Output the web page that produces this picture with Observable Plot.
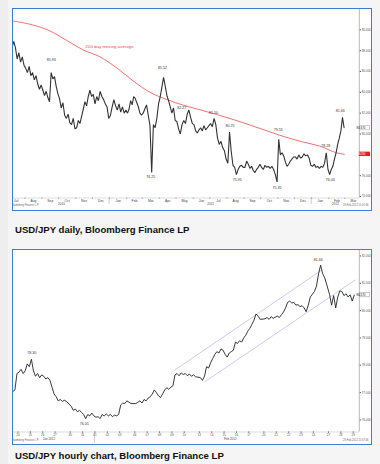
<!DOCTYPE html>
<html><head><meta charset="utf-8">
<script src="https://cdn.jsdelivr.net/npm/d3@7"></script>
<script src="https://cdn.jsdelivr.net/npm/@observablehq/plot@0.6"></script>
<style>
html,body{margin:0;padding:0;}
body{width:380px;height:464px;background:#f5f5f5;position:relative;overflow:hidden;font-family:"Liberation Sans",Arial,sans-serif;}
.strip{position:absolute;left:0;top:0;width:8px;height:464px;background:#eeeeee;}
.frame{position:absolute;left:12px;width:360px;box-sizing:border-box;border:1.5px solid #3f7fcf;background:#fff;overflow:hidden;}
.frame svg{position:absolute;left:0;top:0;}
.cap{position:absolute;left:15px;font-weight:bold;font-size:9.6px;line-height:11px;color:#111;white-space:nowrap;}
</style></head><body>
<div class="strip"></div>
<div class="frame" id="f1" style="top:8px;height:203px;"></div>
<div class="cap" style="top:224px;">USD/JPY daily, Bloomberg Finance LP</div>
<div class="frame" id="f2" style="top:249px;height:196px;"></div>
<div class="cap" style="top:450px;">USD/JPY hourly chart, Bloomberg Finance LP</div>
<script>
const DAY = 864e5;
const utc = s => { const p = s.split("-").map(Number); return Date.UTC(p[0], p[1]-1, p[2]||1); };

// ---------------- DAILY CHART DATA ----------------
const dailyMonths = ["2010-07","2010-08","2010-09","2010-10","2010-11","2010-12","2011-01","2011-02","2011-03","2011-04","2011-05","2011-06","2011-07","2011-08","2011-09","2011-10","2011-11","2011-12","2012-01","2012-02"];
const dailyValues = [
  [88.4, 88.0, 88.3, 88.9, 88.3, 87.2, 87.8, 86.9, 87.4, 86.6],
  [86.3, 85.9, 86.5, 85.6, 85.9, 85.2, 85.6, 84.8, 84.3, 84.7],
  [84.2, 83.7, 84.1, 83.5, 83.1, 85.9, 85.3, 85.5, 84.6, 83.9],
  [83.4, 82.5, 83.0, 81.8, 81.5, 81.9, 81.1, 80.9, 81.5, 80.5],
  [80.6, 81.3, 81.0, 81.7, 82.4, 83.1, 82.7, 83.6, 84.2, 83.6],
  [83.8, 82.9, 83.6, 83.2, 84.1, 83.6, 83.3, 82.9, 82.6, 81.5],
  [81.8, 82.6, 83.3, 82.7, 82.3, 82.9, 82.1, 82.6, 82.0, 82.3],
  [82.0, 82.4, 83.2, 82.8, 83.6, 83.4, 83.0, 82.6, 82.0, 81.8],
  [82.0, 82.4, 82.8, 81.8, 80.8, 76.3, 80.9, 80.6, 81.5, 82.9],
  [83.6, 84.5, 85.45, 84.6, 83.7, 83.2, 82.6, 82.0, 82.5, 81.3],
  [81.2, 80.5, 80.0, 80.9, 81.3, 81.0, 81.9, 82.3, 81.6, 81.0],
  [80.9, 80.3, 80.1, 80.4, 80.6, 80.3, 80.8, 80.4, 80.6, 80.8],
  [81.0, 80.7, 81.5, 80.9, 79.6, 79.0, 79.3, 78.7, 78.4, 77.6],
  [77.2, 80.2, 78.3, 77.0, 76.8, 76.1, 76.6, 76.9, 77.0, 76.8],
  [76.8, 77.4, 77.1, 76.7, 76.9, 76.5, 76.3, 76.6, 76.8, 77.1],
  [76.8, 76.6, 77.0, 76.8, 76.9, 76.7, 76.9, 76.6, 76.1, 75.4],
  [79.5, 78.0, 78.2, 77.9, 77.3, 76.9, 77.1, 77.4, 77.6, 77.8],
  [77.8, 77.6, 78.0, 77.7, 77.8, 78.1, 77.9, 78.0, 77.7, 77.0],
  [76.9, 77.1, 76.8, 76.9, 76.7, 76.9, 76.8, 77.2, 78.2, 76.6],
  [76.1, 76.6, 76.9, 77.6, 78.2, 79.0, 79.6, 80.3, 81.6, 80.6]
];
const maDates = ["2010-07-10","2010-08-15","2010-09-15","2010-10-15","2010-11-15","2010-12-15","2011-01-15","2011-02-15","2011-03-15","2011-04-15","2011-05-15","2011-06-15","2011-07-15","2011-08-15","2011-09-15","2011-10-15","2011-11-15","2011-12-15","2012-01-15","2012-02-15","2012-02-29"];
const maValues = [90.85, 90.47, 89.9, 89.0, 88.05, 87.4, 86.3, 85.0, 84.0, 83.3, 82.75, 82.3, 81.85, 81.35, 80.8, 80.25, 79.7, 79.25, 78.85, 78.2, 78.05];
const dailyYTicks = [74, 76, 78, 80, 82, 84, 86, 88, 90];
const dailyNoteText = ["85.93","85.52","82.27","81.50","80.25","79.55","78.28","81.66","76.25","75.95","75.35","76.03"];
const dailyNoteDates = ["2010-09-17","2011-04-06","2011-05-11","2011-07-07","2011-08-06","2011-11-01","2012-01-26","2012-02-21","2011-03-16","2011-08-19","2011-10-30","2012-02-03"];
const dailyNoteDy = [-12, -9, -3, -6, -6, -9, -6, -6, 4, 4, 5, 4];
const maLabel = "200 day moving average";
const lastPrice = 80.57, lastMA = 78.05;

// ---------------- HOURLY CHART DATA ----------------
const hourDays = ["2012-01-23","2012-01-24","2012-01-25","2012-01-26","2012-01-27","2012-01-30","2012-01-31","2012-02-01","2012-02-02","2012-02-03","2012-02-06","2012-02-07","2012-02-08","2012-02-09","2012-02-10","2012-02-13","2012-02-14","2012-02-15","2012-02-16","2012-02-17","2012-02-20","2012-02-21","2012-02-22","2012-02-23","2012-02-24","2012-02-27","2012-02-28","2012-02-29"];
const hourSampleHours = [2, 6, 10, 14, 18, 22];
const hourValues = [
  [77.0, 77.02, 76.98, 77.04, 77.1, 77.7],
  [77.75, 77.85, 77.7, 77.8, 78.05, 77.95],
  [78.22, 77.8, 77.6, 77.7, 77.55, 77.65],
  [77.6, 77.5, 77.55, 77.45, 77.2, 76.95],
  [76.85, 76.7, 76.75, 76.68, 76.72, 76.68],
  [76.5, 76.35, 76.4, 76.3, 76.35, 76.28],
  [76.2, 76.05, 76.2, 76.15, 76.25, 76.15],
  [76.1, 76.12, 76.05, 76.2, 76.15, 76.22],
  [76.15, 76.2, 76.12, 76.18, 76.15, 76.2],
  [76.55, 76.62, 76.6, 76.7, 76.65, 76.6],
  [76.6, 76.65, 76.7, 76.62, 76.75, 76.7],
  [76.8, 76.85, 76.95, 77.1, 77.0, 76.88],
  [76.82, 76.95, 77.1, 77.18, 77.12, 77.2],
  [77.25, 77.65, 77.7, 77.62, 77.72, 77.66],
  [77.7, 77.62, 77.68, 77.6, 77.65, 77.58],
  [77.55, 77.45, 77.6, 77.95, 77.9, 78.1],
  [78.25, 78.4, 78.5, 78.45, 78.6, 78.55],
  [78.4, 78.3, 78.45, 78.5, 78.55, 78.85],
  [78.8, 78.9, 78.85, 79.0, 79.1, 79.25],
  [79.35, 79.5, 79.65, 79.88, 79.8, 79.68],
  [79.7, 79.75, 79.68, 79.78, 79.72, 79.76],
  [79.8, 79.75, 79.85, 79.95, 80.1, 80.3],
  [80.35, 80.28, 80.3, 80.2, 80.22, 80.15],
  [80.18, 80.1, 79.96, 80.2, 80.5, 80.6],
  [80.7, 80.9, 81.35, 81.66, 81.35, 81.2],
  [80.6, 80.2, 80.55, 80.1, 80.5, 80.72],
  [80.7, 80.55, 80.62, 80.5, 80.58, 80.35],
  [80.57]
];
const hourYTicks = [76, 77, 78, 79, 80, 81, 82];
const channelUpper = [["2012-02-09", 6, 77.83], ["2012-02-24", 16.7, 81.49]];
const channelLower = [["2012-02-13", 11, 77.4], ["2012-02-29", 3.5, 81.12]];
const hourNotes = [["2012-01-25", 2.6, 78.30, "78.30", -4], ["2012-01-31", 3.4, 76.05, "76.05", 5], ["2012-02-24", 9.6, 81.66, "81.66", -5]];
const hourMonthLabels = [["2012-01-26", "Jan 2012"], ["2012-02-15", "Feb 2012"]];
const hourLast = 80.57;

const FONT = "Liberation Sans, Arial, sans-serif";

// ================= DAILY CHART =================
(function(){
  const W = 357, H = 200;
  const daily = [];
  dailyMonths.forEach((m, j) => {
    const p = m.split("-").map(Number);
    const s = Date.UTC(p[0], p[1]-1, 1), e = Date.UTC(p[0], p[1], 1);
    const vals = dailyValues[j], n = vals.length;
    vals.forEach((v, i) => daily.push({date: new Date(s + (i + 0.5) * (e - s) / n), v}));
  });
  const ma = maDates.map((d, i) => ({date: new Date(utc(d)), v: maValues[i]}));
  const origin = Date.UTC(2010, 6, 1);
  const xDom = [new Date(origin + 10.47 * DAY), new Date(origin + 635 * DAY)];
  const yDom = [73.86, 91.95];
  const monthStarts = d3.utcMonth.range(new Date(Date.UTC(2010, 7, 1)), new Date(Date.UTC(2012, 3, 1)));
  const monthMids = d3.utcMonth.range(new Date(Date.UTC(2010, 6, 1)), new Date(Date.UTC(2012, 3, 1)))
    .map(d => new Date((+d + +d3.utcMonth.offset(d, 1)) / 2));
  const y2011 = Date.UTC(2011,0,1), y2012 = Date.UTC(2012,0,1);
  const years = [
    {date: new Date((+xDom[0] + y2011) / 2), t: "2010"},
    {date: new Date((y2011 + y2012) / 2), t: "2011"},
    {date: new Date((y2012 + +xDom[1]) / 2), t: "2012"}
  ];
  const notes = dailyNoteText.map((t, i) => ({date: new Date(utc(dailyNoteDates[i]) + DAY/2), v: +t, t, dy: dailyNoteDy[i]}));
  const noteMarks = notes.map(n => Plot.text([n], {x: "date", y: "v", text: "t", dy: n.dy, fontSize: 3.6, fill: "#333"}));
  const p = Plot.plot({
    width: W, height: H, marginLeft: 0, marginRight: 11.2, marginTop: 0, marginBottom: 11.5,
    x: {type: "utc", domain: xDom, axis: null},
    y: {domain: yDom, axis: null},
    style: {fontFamily: FONT, background: "white", overflow: "visible"},
    marks: [
      Plot.ruleY([yDom[0]], {stroke: "#bbb", strokeWidth: 0.5}),
      Plot.ruleX([xDom[1]], {stroke: "#888", strokeWidth: 0.6}),
      Plot.line(ma, {x: "date", y: "v", stroke: "#f24a4a", strokeWidth: 0.8, curve: "monotone-x", clip: true}),
      Plot.line(daily, {x: "date", y: "v", stroke: "#333", strokeWidth: 1.1, strokeLinejoin: "miter", clip: true}),
      Plot.text([maLabel], {x: () => new Date(Date.UTC(2011, 0, 1)), y: () => 88.38, text: d => d, fill: "#f24a4a", fontSize: 4.4}),
      ...noteMarks,
      Plot.axisY(dailyYTicks, {anchor: "right", tickSize: 1.2, tickPadding: 1.2, fontSize: 2.95, tickFormat: d => (Math.abs(d - lastMA) < 0.6 ? "" : d.toFixed(3)), color: "#555", label: null}),
      Plot.axisX(monthStarts, {anchor: "bottom", tickSize: 1.2, tickFormat: () => "", color: "#999", label: null}),
      Plot.axisX(monthMids, {anchor: "bottom", tickSize: 0, tickPadding: 2, fontSize: 3.4, tickFormat: d3.utcFormat("%b"), color: "#444", label: null}),
      Plot.text(years, {x: "date", y: () => yDom[0], text: "t", dy: 6.4, fontSize: 3.1, fill: "#444"})
    ]
  });
  document.getElementById("f1").appendChild(p);
  const xs = p.scale("x"), ys = p.scale("y");
  const s = d3.select(p);
  const xr = xs.apply(xDom[1]);
  [y2011, y2012].forEach(d => {
    const x = xs.apply(new Date(d));
    s.append("line").attr("x1", x).attr("x2", x).attr("y1", H - 11.5).attr("y2", H - 5).attr("stroke", "#999").attr("stroke-width", 0.5);
  });
  const yp = ys.apply(lastPrice);
  s.append("rect").attr("x", xr + 1).attr("y", yp - 2.3).attr("width", W - xr - 1.3).attr("height", 4.6).attr("fill", "#fff").attr("stroke", "#888").attr("stroke-width", 0.4);
  s.append("text").attr("x", xr + 2.2).attr("y", yp).attr("dy", "0.35em").attr("font-size", 2.95).attr("fill", "#222").text(lastPrice.toFixed(3));
  const ym = ys.apply(lastMA);
  s.append("rect").attr("x", xr).attr("y", ym - 2.2).attr("width", W - xr).attr("height", 4.4).attr("fill", "#ee1c24");
  s.append("text").attr("x", xr + 2.2).attr("y", ym).attr("dy", "0.35em").attr("font-size", 2.95).attr("fill", "#fff").text(lastMA.toFixed(3));
  s.append("text").attr("x", 3).attr("y", H - 2.6).attr("font-size", 2.6).attr("fill", "#666").text("Copyright 2012 Bloomberg Finance L.P.");
  s.append("text").attr("x", W - 1.5).attr("y", H - 2.6).attr("text-anchor", "end").attr("font-size", 2.6).attr("fill", "#666").text("29-Feb-2012 11:07:46");
})();

// ================= HOURLY CHART =================
(function(){
  const W = 357, H = 193;
  const dayT = {};
  let t = -1, prev = null;
  hourDays.forEach(d => {
    const ms = utc(d);
    if (prev !== null) t += 1 + ((ms - prev) / DAY > 1 ? 0.22 : 0);
    dayT[d] = t; prev = ms;
  });
  const tOf = (d, h) => dayT[d] + h / 24;
  const hourly = [];
  hourDays.forEach((d, i) => hourValues[i].forEach((v, k) => hourly.push({t: tOf(d, hourSampleHours[k]), v})));
  const xDom = [-0.364, 27.59];
  const yDom = [75.56, 82.20];
  const tickDays = hourDays.slice(1);
  const tickT = tickDays.map(d => dayT[d]);
  const tickLab = new Map(tickDays.map(d => [dayT[d], d3.utcFormat("%d")(new Date(utc(d)))]));
  const chan = arr => arr.map(([d, h, v]) => ({t: tOf(d, h), v}));
  const notes = hourNotes.map(([d, h, v, txt, dy]) => ({t: tOf(d, h), v, txt, dy}));
  const noteMarks = notes.map(n => Plot.text([n], {x: "t", y: "v", text: "txt", dy: n.dy, fontSize: 3.6, fill: "#333"}));
  const months = hourMonthLabels.map(([d, txt]) => ({t: dayT[d] + 0.5, txt}));
  const p = Plot.plot({
    width: W, height: H, marginLeft: 0, marginRight: 11.2, marginTop: 0, marginBottom: 11.5,
    x: {type: "linear", domain: xDom, axis: null},
    y: {domain: yDom, axis: null},
    style: {fontFamily: FONT, background: "white", overflow: "visible"},
    marks: [
      Plot.ruleY([yDom[0]], {stroke: "#bbb", strokeWidth: 0.5}),
      Plot.ruleX([xDom[1]], {stroke: "#888", strokeWidth: 0.6}),
      Plot.line(chan(channelUpper), {x: "t", y: "v", stroke: "#a8a8ec", strokeWidth: 0.6}),
      Plot.line(chan(channelLower), {x: "t", y: "v", stroke: "#a8a8ec", strokeWidth: 0.6}),
      Plot.line(hourly, {x: "t", y: "v", stroke: "#222", strokeWidth: 0.9, clip: true}),
      ...noteMarks,
      Plot.axisY(hourYTicks, {anchor: "right", tickSize: 1.2, tickPadding: 1.2, fontSize: 2.95, tickFormat: d => d.toFixed(3), color: "#555", label: null}),
      Plot.axisX(tickT, {anchor: "bottom", tickSize: 1.2, tickPadding: 0.8, fontSize: 3, tickFormat: d => tickLab.get(d), color: "#555", label: null}),
      Plot.text(months, {x: "t", y: () => yDom[0], text: "txt", dy: 7, fontSize: 3, fill: "#444"})
    ]
  });
  document.getElementById("f2").appendChild(p);
  const xs = p.scale("x"), ys = p.scale("y");
  const s = d3.select(p);
  const xr = xs.apply(xDom[1]);
  const sep = xs.apply((dayT["2012-01-31"] + dayT["2012-02-01"]) / 2 + 0.5);
  s.append("line").attr("x1", sep).attr("x2", sep).attr("y1", H - 11.5).attr("y2", H).attr("stroke", "#999").attr("stroke-width", 0.5);
  const yp = ys.apply(hourLast);
  s.append("rect").attr("x", xr + 1).attr("y", yp - 2.3).attr("width", W - xr - 1.3).attr("height", 4.6).attr("fill", "#fff").attr("stroke", "#777").attr("stroke-width", 0.4);
  s.append("text").attr("x", xr + 2.2).attr("y", yp).attr("dy", "0.35em").attr("font-size", 2.95).attr("fill", "#111").text(hourLast.toFixed(3));
  s.append("text").attr("x", 3).attr("y", H - 2.4).attr("font-size", 2.6).attr("fill", "#666").text("Copyright 2012 Bloomberg Finance L.P.");
  s.append("text").attr("x", W - 1.5).attr("y", H - 2.4).attr("text-anchor", "end").attr("font-size", 2.6).attr("fill", "#666").text("29-Feb-2012 11:07:46");
})();
</script>
</body></html>
